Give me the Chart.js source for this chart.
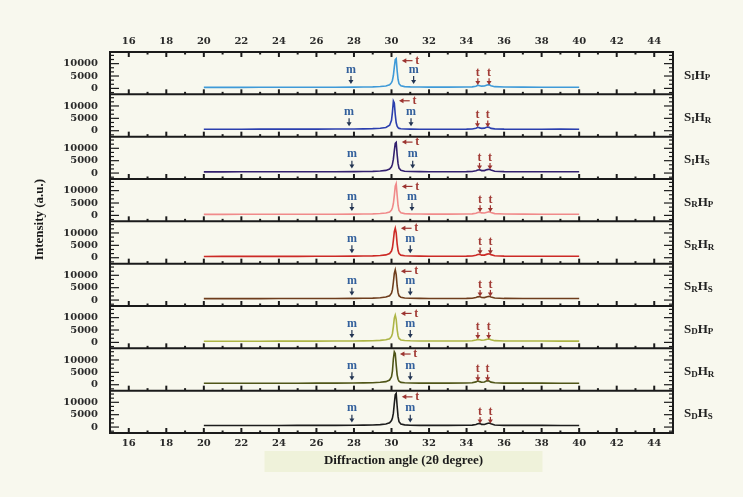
<!DOCTYPE html>
<html>
<head>
<meta charset="utf-8">
<title>XRD patterns</title>
<script src="https://cdn.jsdelivr.net/npm/chart.js@4.4.1/dist/chart.umd.min.js"></script>
<style>
    html, body { margin: 0; padding: 0; background: #f8f8ee; }
    #xrdChart { display: block; }
</style>
</head>
<body>
<canvas id="xrdChart" width="743" height="497"></canvas>
<script>
// Diffraction angles (2θ) shared by every pattern
const angles = [20, 21, 22, 23, 24, 25, 26, 27, 28, 28.5, 29, 29.4, 29.7, 29.9,
    30.0, 30.05, 30.1, 30.15, 30.2, 30.25, 30.3, 30.35, 30.4, 30.5, 30.7, 31, 31.5, 32, 33, 34,
    34.3, 34.5, 34.6, 34.7, 34.8, 34.95, 35.1, 35.2, 35.3, 35.5, 36, 37, 38, 39, 40];

// Intensity (a.u.) of each sample, top panel first
const sIhP = [420, 430, 430, 440, 450, 460, 470, 490, 520, 560, 620, 760, 980, 1450,
    2300, 3300, 5200, 8600, 11600, 12000, 7200, 3600, 1900, 1050, 720, 600, 540, 510, 500, 540,
    620, 900, 1300, 1100, 900, 950, 1350, 1500, 1100, 700, 540, 500, 480, 470, 460];
const sIhR = [600, 620, 610, 630, 640, 650, 660, 680, 720, 760, 830, 980, 1300, 2200,
    4200, 7500, 12000, 11200, 6500, 3200, 1800, 1200, 950, 800, 700, 650, 620, 600, 610, 640,
    700, 1000, 1400, 1150, 950, 1050, 1500, 1350, 950, 750, 650, 620, 600, 640, 620];
const sIhS = [480, 490, 500, 500, 510, 520, 530, 550, 580, 620, 690, 840, 1080, 1600,
    2500, 3600, 5600, 9000, 12000, 12400, 7500, 3800, 2000, 1100, 760, 640, 580, 550, 530, 570,
    660, 950, 1250, 1350, 1000, 1000, 1400, 1550, 1200, 750, 580, 540, 520, 510, 500];
const sRhP = [430, 430, 440, 440, 450, 460, 470, 490, 520, 560, 620, 760, 980, 1400,
    2200, 3100, 4800, 8000, 11800, 12800, 8200, 4000, 2000, 1050, 720, 600, 540, 510, 500, 540,
    620, 850, 1150, 1300, 1000, 950, 1300, 1500, 1200, 720, 540, 500, 480, 470, 460];
const sRhR = [520, 530, 540, 540, 550, 560, 580, 600, 640, 680, 750, 900, 1150, 1700,
    2700, 4000, 7000, 10500, 11900, 10000, 5600, 2900, 1700, 1050, 780, 680, 630, 600, 590, 640,
    720, 1000, 1300, 1400, 1050, 1050, 1450, 1600, 1250, 800, 640, 600, 600, 590, 580];
const sRhS = [560, 570, 580, 590, 600, 610, 630, 650, 690, 730, 800, 950, 1200, 1750,
    2800, 4200, 7200, 10800, 12200, 10300, 5800, 3000, 1750, 1100, 820, 720, 670, 640, 630, 670,
    760, 1000, 1300, 1400, 1050, 1000, 1350, 1500, 1200, 800, 660, 630, 620, 610, 600];
const sDhP = [470, 480, 490, 490, 500, 510, 520, 540, 570, 610, 680, 820, 1050, 1500,
    2400, 3600, 6400, 9800, 11000, 9300, 5200, 2700, 1600, 1000, 740, 640, 590, 560, 550, 590,
    680, 950, 1200, 1050, 880, 950, 1300, 1400, 1050, 700, 580, 550, 540, 530, 520];
const sDhR = [580, 590, 600, 600, 610, 620, 640, 660, 700, 740, 820, 980, 1250, 1900,
    3200, 5500, 10500, 13300, 12600, 8000, 4000, 2200, 1400, 950, 780, 700, 660, 640, 630, 680,
    780, 1150, 1550, 1250, 1000, 1100, 1650, 1500, 1050, 780, 660, 640, 630, 620, 610];
const sDhS = [620, 630, 640, 640, 650, 660, 680, 700, 740, 780, 850, 1000, 1250, 1700,
    2600, 3600, 5600, 9500, 13000, 13600, 8500, 4200, 2200, 1200, 880, 760, 700, 680, 670, 710,
    800, 1050, 1350, 1500, 1100, 1050, 1450, 1650, 1300, 850, 700, 670, 660, 650, 640];

const samples = [sIhP, sIhR, sIhS, sRhP, sRhR, sRhS, sDhP, sDhR, sDhS];
// subscripts of S and H in each panel label
const sSubs = ['I', 'I', 'I', 'R', 'R', 'R', 'D', 'D', 'D'];
const hSubs = ['P', 'R', 'S', 'P', 'R', 'S', 'P', 'R', 'S'];
const lineColors = ['#3f9ad8', '#2b3fae', '#33206e', '#f08a8a', '#cc2a26',
    '#6e3d1c', '#adb545', '#4f5518', '#1c1c1c'];

// Axis ticks
const xTicks = [16, 18, 20, 22, 24, 26, 28, 30, 32, 34, 36, 38, 40, 42, 44];
const xMinorTicks = [17, 19, 21, 23, 25, 27, 29, 31, 33, 35, 37, 39, 41, 43];
const yTicks = [0, 5000, 10000];
const yMinorTicks = [-1667, 1667, 3333, 6667, 8333, 11667, 13333];

// Phase markers (2θ): monoclinic m, tetragonal t
const mLeft = [27.84, 27.74, 27.89, 27.89, 27.89, 27.89, 27.89, 27.89, 27.89];
const mRight = [31.18, 31.04, 31.13, 31.09, 31.0, 31.0, 31.0, 31.0, 31.0];
const tLeft = [34.6, 34.58, 34.69, 34.72, 34.72, 34.72, 34.6, 34.6, 34.72];
const tRight = [35.2, 35.13, 35.25, 35.27, 35.27, 35.27, 35.18, 35.12, 35.27];
const tMainLevel = [11200, 12100, 12500, 11700, 11900, 11600, 11700, 12400, 12200];

const serif = '"Liberation Serif", "Times New Roman", serif';

function drawLine(ctx, x1, y1, x2, y2) {
    ctx.beginPath();
    ctx.moveTo(x1, y1);
    ctx.lineTo(x2, y2);
    ctx.stroke();
}

function arrowDown(ctx, x, y1, y2, color) {
    ctx.strokeStyle = color;
    ctx.fillStyle = color;
    ctx.lineWidth = 1.2;
    drawLine(ctx, x, y1, x, y2 - 3);
    ctx.beginPath();
    ctx.moveTo(x - 2.5, y2 - 4);
    ctx.lineTo(x + 2.5, y2 - 4);
    ctx.lineTo(x, y2);
    ctx.closePath();
    ctx.fill();
}

function arrowLeft(ctx, x1, x2, y, color) {
    ctx.strokeStyle = color;
    ctx.fillStyle = color;
    ctx.lineWidth = 1.2;
    drawLine(ctx, x1 + 3, y, x2, y);
    ctx.beginPath();
    ctx.moveTo(x1 + 4.5, y - 2.5);
    ctx.lineTo(x1 + 4.5, y + 2.5);
    ctx.lineTo(x1, y);
    ctx.closePath();
    ctx.fill();
}

function drawSampleLabel(ctx, x, y, sub1, sub2) {
    ctx.fillStyle = '#222';
    ctx.textAlign = 'left';
    ctx.textBaseline = 'middle';
    const parts = [['S', 13, 0], [sub1, 9, 3], ['H', 13, 0], [sub2, 9, 3]];
    parts.forEach(([txt, size, dy]) => {
        ctx.font = `bold ${size}px ${serif}`;
        ctx.fillText(txt, x, y + dy);
        x += ctx.measureText(txt).width;
    });
}

// Frames, inward ticks, phase markers and titles
const xrdDecor = {
    id: 'xrdDecor',
    beforeDraw(chart) {
        const {ctx, chartArea: ca} = chart;
        ctx.save();
        ctx.fillStyle = '#f8f8ee';
        ctx.fillRect(0, 0, chart.width, chart.height);
        // pale band behind the x title
        const cx = (ca.left + ca.right) / 2 + 12;
        ctx.fillStyle = '#eff2da';
        ctx.fillRect(cx - 139, ca.bottom + 18, 278, 21);
        ctx.restore();
    },
    afterDraw(chart) {
        const {ctx, chartArea: ca, scales} = chart;
        const xs = scales.x;
        const px = v => xs.getPixelForValue(v);
        ctx.save();
        ctx.strokeStyle = '#1b1b1b';
        ctx.lineWidth = 2;
        ctx.strokeRect(ca.left, ca.top, ca.right - ca.left, ca.bottom - ca.top);

        // top axis ticks point down
        xTicks.forEach(v => drawLine(ctx, px(v), ca.top, px(v), ca.top + 5));
        xMinorTicks.forEach(v => drawLine(ctx, px(v), ca.top, px(v), ca.top + 2.5));

        samples.forEach((data, i) => {
            const ys = scales['y' + i];
            const py = v => ys.getPixelForValue(v);
            const yb = ys.bottom;

            ctx.strokeStyle = '#1b1b1b';
            ctx.lineWidth = 2;
            drawLine(ctx, ca.left, yb, ca.right, yb);
            xTicks.forEach(v => drawLine(ctx, px(v), yb, px(v), yb - 5));
            xMinorTicks.forEach(v => drawLine(ctx, px(v), yb, px(v), yb - 2.5));

            ctx.lineWidth = 1.2;
            yTicks.forEach(v => {
                drawLine(ctx, ca.left, py(v), ca.left + 9, py(v));
                drawLine(ctx, ca.right, py(v), ca.right - 9, py(v));
            });
            yMinorTicks.forEach(v => {
                drawLine(ctx, ca.left, py(v), ca.left + 4, py(v));
                drawLine(ctx, ca.right, py(v), ca.right - 4, py(v));
            });

            // markers
            ctx.textAlign = 'center';
            ctx.textBaseline = 'middle';
            [mLeft[i], mRight[i]].forEach(a => {
                ctx.fillStyle = '#33609c';
                ctx.font = `bold 12px ${serif}`;
                ctx.fillText('m', px(a), py(7600));
                arrowDown(ctx, px(a), py(5000), py(1800), '#223452');
            });
            [tLeft[i], tRight[i]].forEach(a => {
                ctx.fillStyle = '#a23c36';
                ctx.font = `bold 12px ${serif}`;
                ctx.fillText('t', px(a), py(6200));
                arrowDown(ctx, px(a), py(4100), py(1400), '#9c3430');
            });
            // main tetragonal peak, located from the data
            const peak = angles[data.indexOf(Math.max(...data))];
            const yl = py(tMainLevel[i]);
            arrowLeft(ctx, px(peak + 0.3), px(peak + 0.87), yl, '#9c3430');
            ctx.fillStyle = '#a23c36';
            ctx.font = `bold 12px ${serif}`;
            ctx.fillText('t', px(peak + 1.12), yl);

            drawSampleLabel(ctx, ca.right + 11, (ys.top + ys.bottom) / 2 + 2, sSubs[i], hSubs[i]);
        });

        // axis titles
        ctx.fillStyle = '#1a1a1a';
        ctx.font = `bold 13px ${serif}`;
        ctx.textAlign = 'center';
        ctx.textBaseline = 'middle';
        ctx.fillText('Diffraction angle (2θ degree)', (ca.left + ca.right) / 2 + 12, ca.bottom + 28);
        ctx.translate(40, (ca.top + ca.bottom) / 2 - 23);
        ctx.rotate(-Math.PI / 2);
        ctx.fillText('Intensity (a.u.)', 0, 0);
        ctx.restore();
    }
};

const tickFont = { family: '"DejaVu Serif"', size: 10, weight: 'bold' };

function xAxis(position, height, padding) {
    return {
        type: 'linear',
        position: position,
        min: 15,
        max: 45,
        afterBuildTicks: s => { s.ticks = xTicks.map(v => ({value: v})); },
        afterFit: s => { s.height = height; },
        grid: { display: false, drawTicks: false },
        border: { display: false },
        ticks: {
            autoSkip: false,
            maxRotation: 0,
            padding: padding,
            color: '#2a2a2a',
            font: tickFont,
            callback: v => String(v)
        }
    };
}

function initializeChart() {
    const ctx = document.getElementById('xrdChart');
    if (!ctx) {
        console.error('Cannot find chart canvas');
        return;
    }

    const scales = {
        x: xAxis('bottom', 64, 4),
        xTop: xAxis('top', 52, 5)
    };
    // last stacked axis is laid out on top, so add them bottom-up
    for (let i = samples.length - 1; i >= 0; i--) {
        scales['y' + i] = {
            type: 'linear',
            position: 'left',
            stack: 'xrd',
            stackWeight: 1,
            min: -2400,
            max: 14700,
            afterBuildTicks: s => { s.ticks = yTicks.map(v => ({value: v})); },
            afterFit: s => { s.width = 110; },
            grid: { display: false, drawTicks: false },
            border: { display: false },
            ticks: {
                autoSkip: false,
                padding: 12,
                color: '#2a2a2a',
                font: tickFont,
                callback: v => String(v)
            }
        };
    }

    const datasets = samples.map((data, i) => ({
        label: sSubs[i] + hSubs[i],
        data: angles.map((a, k) => ({x: a, y: data[k]})),
        yAxisID: 'y' + i,
        xAxisID: 'x',
        borderColor: lineColors[i],
        borderWidth: 1.6,
        pointRadius: 0,
        tension: 0,
        fill: false
    }));

    new Chart(ctx, {
        type: 'line',
        data: { datasets },
        options: {
            responsive: false,
            animation: false,
            layout: { padding: { left: 0, right: 70, top: 0, bottom: 0 } },
            plugins: {
                legend: { display: false },
                tooltip: { enabled: false }
            },
            scales
        },
        plugins: [xrdDecor]
    });
}

document.addEventListener('DOMContentLoaded', initializeChart);
</script>
</body>
</html>
